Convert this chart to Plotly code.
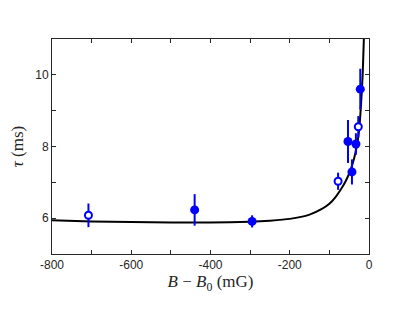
import plotly.graph_objects as go

# Open-circle data
open_x = [-708, -78, -27]
open_y = [6.08, 7.03, 8.55]
open_err = [0.33, 0.24, 0.3]

# Filled-circle data
filled_x = [-440, -295, -53, -43, -33, -22]
filled_y = [6.23, 5.91, 8.14, 7.29, 8.07, 9.6]
filled_err = [0.44, 0.17, 0.6, 0.35, 0.3, 0.57]

# Fit curve
curve_x = [-800, -700, -600, -500, -400, -300, -250, -200, -150, -120, -100,
           -85, -70, -58, -46, -38, -31, -25, -20, -16, -13, -11]
curve_y = [5.94, 5.91, 5.89, 5.88, 5.88, 5.90, 5.93, 5.98, 6.10, 6.25, 6.40,
           6.58, 6.82, 7.05, 7.36, 7.65, 8.00, 8.45, 9.20, 10.0, 11.0, 11.6]

x_ticks = [-800, -600, -400, -200, 0]
x_ticktext = ["-800", "-600", "-400", "-200", "0"]
y_ticks = [6, 8, 10]

blue = "#0000ff"
axcol = "#262626"

fig = go.Figure()
fig.add_trace(go.Scatter(
    x=curve_x, y=curve_y, mode="lines",
    line=dict(color="black", width=2, shape="spline", smoothing=0.6),
    showlegend=False, hoverinfo="skip"))
fig.add_trace(go.Scatter(
    x=filled_x, y=filled_y, mode="markers",
    marker=dict(color=blue, size=9, line=dict(width=0)),
    error_y=dict(type="data", array=filled_err, color=blue, thickness=2, width=0),
    showlegend=False))
fig.add_trace(go.Scatter(
    x=open_x, y=open_y, mode="markers",
    marker=dict(color="white", size=7, line=dict(color=blue, width=2)),
    error_y=dict(type="data", array=open_err, color=blue, thickness=2, width=0),
    showlegend=False))

axis_common = dict(
    showgrid=False, zeroline=False, showline=True, mirror="ticks",
    linecolor=axcol, linewidth=1, ticks="inside", ticklen=4,
    tickcolor=axcol, tickwidth=1, automargin=False,
    tickfont=dict(family="Liberation Sans, Arial", size=12, color=axcol),
)

fig.update_xaxes(
    range=[-800, 0], tickvals=x_ticks, ticktext=x_ticktext,
    minor=dict(dtick=100, ticks="inside", ticklen=4, tickcolor=axcol, showgrid=False),
    title=dict(text="<i>B</i> − <i>B</i><sub>0</sub> (mG)",
               font=dict(family="Liberation Serif, Times New Roman", size=17, color=axcol),
               standoff=3),
    **axis_common)
fig.update_yaxes(
    range=[5, 11], tickvals=y_ticks,
    minor=dict(dtick=1, ticks="inside", ticklen=4, tickcolor=axcol, showgrid=False),
    title=dict(text="<i>τ</i> (ms)",
               font=dict(family="Liberation Serif, Times New Roman", size=17, color=axcol),
               standoff=8),
    **axis_common)

# The page places the figure 8 px in from the top-left corner, so the margins
# are chosen to put the plot box where the reference has it.
fig.update_layout(
    width=407, height=315,
    margin=dict(l=44, r=46, t=31, b=69, autoexpand=False),
    paper_bgcolor="white", plot_bgcolor="white",
)

fig.write_html("out.html")
